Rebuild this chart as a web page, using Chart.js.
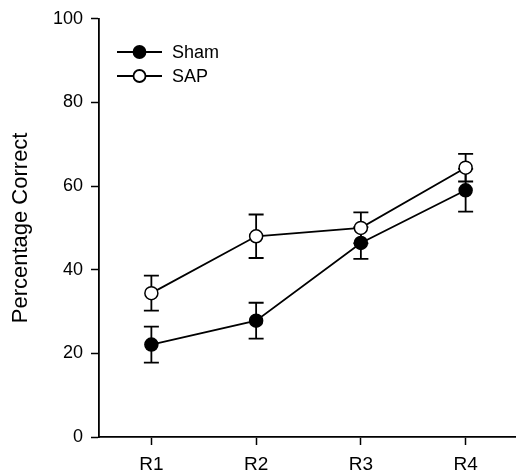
<!DOCTYPE html>
<html lang="en">
<head>
<meta charset="UTF-8">
<title>Percentage Correct</title>
<script src="https://cdn.jsdelivr.net/npm/chart.js"></script>
<style>
    html, body { margin: 0; padding: 0; background: #fff; overflow: hidden; }
    #wrap { position: relative; width: 516px; height: 475px; overflow: hidden; }
</style>
</head>
<body>
<div id="wrap">
    <canvas id="grafico" width="526" height="475"></canvas>
</div>
<script>
    // dados
    const rodadas = ['R1', 'R2', 'R3', 'R4'];
    const shamMedia = [22.1, 27.8, 46.4, 59.0];
    const shamErro = [4.3, 4.3, 3.8, 5.1];
    const sapMedia = [34.4, 48.0, 50.0, 64.4];
    const sapErro = [4.2, 5.2, 3.7, 3.3];
    const yTicks = [0, 20, 40, 60, 80, 100];

    const erros = [shamErro, sapErro];
    const fonte = '"Liberation Sans", Arial, sans-serif';

    // barras de erro desenhadas antes das linhas/pontos
    const barrasErro = {
        id: 'barrasErro',
        beforeDatasetsDraw(chart) {
            const ctx = chart.ctx;
            const y = chart.scales.y;
            ctx.save();
            ctx.strokeStyle = '#000';
            ctx.lineWidth = 1.8;
            chart.data.datasets.forEach((ds, i) => {
                const meta = chart.getDatasetMeta(i);
                meta.data.forEach((pt, j) => {
                    const v = ds.data[j];
                    const e = erros[i][j];
                    const yTop = y.getPixelForValue(v + e);
                    const yBot = y.getPixelForValue(v - e);
                    ctx.beginPath();
                    ctx.moveTo(pt.x, yTop);
                    ctx.lineTo(pt.x, yBot);
                    ctx.moveTo(pt.x - 7.5, yTop);
                    ctx.lineTo(pt.x + 7.5, yTop);
                    ctx.moveTo(pt.x - 7.5, yBot);
                    ctx.lineTo(pt.x + 7.5, yBot);
                    ctx.stroke();
                });
            });
            ctx.restore();
        }
    };

    // legenda com linha atravessando o marcador
    const legenda = {
        id: 'legenda',
        afterDraw(chart) {
            const ctx = chart.ctx;
            ctx.save();
            chart.data.datasets.forEach((ds, i) => {
                const yy = 52 + i * 24;
                ctx.strokeStyle = '#000';
                ctx.lineWidth = 1.8;
                ctx.beginPath();
                ctx.moveTo(117, yy);
                ctx.lineTo(162, yy);
                ctx.stroke();
                ctx.beginPath();
                ctx.arc(139.5, yy, 6, 0, Math.PI * 2);
                ctx.fillStyle = ds.pointBackgroundColor;
                ctx.fill();
                ctx.stroke();
                ctx.fillStyle = '#000';
                ctx.font = '18px ' + fonte;
                ctx.textBaseline = 'middle';
                ctx.fillText(ds.label, 172, yy + 1);
            });
            ctx.restore();
        }
    };

    const ctx = document.getElementById('grafico').getContext('2d');
    new Chart(ctx, {
        type: 'line',
        data: {
            labels: rodadas,
            datasets: [
                {
                    label: 'Sham',
                    data: shamMedia,
                    borderColor: '#000',
                    borderWidth: 1.8,
                    pointBackgroundColor: '#000',
                    pointBorderColor: '#000',
                    pointBorderWidth: 1.5,
                    pointRadius: 6.5,
                    tension: 0
                },
                {
                    label: 'SAP',
                    data: sapMedia,
                    borderColor: '#000',
                    borderWidth: 1.8,
                    pointBackgroundColor: '#fff',
                    pointBorderColor: '#000',
                    pointBorderWidth: 1.5,
                    pointRadius: 6.5,
                    tension: 0
                }
            ]
        },
        options: {
            responsive: false,
            animation: false,
            layout: { padding: { top: 18, right: 0, left: 0, bottom: 0 } },
            plugins: {
                legend: { display: false },
                tooltip: { enabled: false }
            },
            scales: {
                x: {
                    offset: true,
                    grid: {
                        offset: false,
                        drawOnChartArea: false,
                        drawTicks: true,
                        tickLength: 8,
                        tickWidth: 1.5,
                        color: '#000'
                    },
                    border: { display: true, color: '#000', width: 1.8 },
                    ticks: {
                        color: '#000',
                        font: { family: fonte, size: 19 },
                        padding: 8,
                        maxRotation: 0
                    },
                    afterFit(scale) { scale.height = 38; }
                },
                y: {
                    min: 0,
                    max: 100,
                    afterBuildTicks(scale) { scale.ticks = yTicks.map(v => ({ value: v })); },
                    grid: {
                        drawOnChartArea: false,
                        drawTicks: true,
                        tickLength: 8,
                        tickWidth: 1.5,
                        color: '#000'
                    },
                    border: { display: true, color: '#000', width: 1.8 },
                    ticks: {
                        color: '#000',
                        font: { family: fonte, size: 18 },
                        padding: 8
                    },
                    title: {
                        display: true,
                        text: 'Percentage Correct',
                        color: '#000',
                        font: { family: fonte, size: 22 },
                        padding: { top: 8, bottom: 0 }
                    },
                    afterFit(scale) { scale.width = 99; }
                }
            }
        },
        plugins: [barrasErro, legenda]
    });
</script>
</body>
</html>
